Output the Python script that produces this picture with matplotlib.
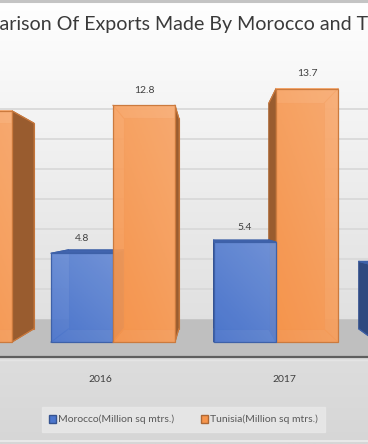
import matplotlib
matplotlib.use("Agg")
import matplotlib.pyplot as plt
import numpy as np
from matplotlib.patches import Polygon, Patch
from matplotlib.lines import Line2D
from matplotlib.colors import LinearSegmentedColormap, to_rgb

years = ["2015", "2016", "2017", "2018"]
morocco = [4.3, 4.8, 5.4, 4.1]
tunisia = [12.5, 12.8, 13.7, 14.2]
series = ["Morocco(Million sq mtrs.)", "Tunisia(Million sq mtrs.)"]
colors = ["#4c76cd", "#f7954c"]
title = "Comparison Of Exports Made By Morocco and Tunisia"
grid_ticks = np.arange(2, 16, 2)

plt.rcParams['font.family'] = ['Lato', 'DejaVu Sans']

fig = plt.figure(figsize=(3.68, 4.44), dpi=100)
ax = fig.add_axes([0, 0, 1, 1])
ax.axis('off')
# the reference is a crop of a wider chart: this is the visible window
xlim = (0.307, 2.564)
ylim = (-5.51, 18.49)

# simple one-point perspective, like excel's 3d columns
vx, vy = 1.595, 6.49
k_back, k_wall, k_floor = 0.89, 0.81, 1.125


def proj(x, y, k):
    return vx + (np.asarray(x, float) - vx) * k, vy + (np.asarray(y, float) - vy) * k


# background
bg = LinearSegmentedColormap.from_list('bg', ['#d6d6d6', '#e9e9e9', '#ffffff'])
ax.imshow(np.linspace(0, 1, 256).reshape(-1, 1), cmap=bg, origin='lower',
          extent=[*xlim, *ylim], aspect='auto', zorder=0)

# gridlines on the back wall
for t in grid_ticks:
    (x0, x1), (y0, _) = proj([-1, 5], [t, t], k_wall)
    ax.plot([x0, x1], [y0, y0], color='#d9d9d9', lw=1.3, zorder=1)

# floor
fx, fy = proj([-2, 6], [0, 0], k_wall)
gx, gy = proj([6, -2], [0, 0], k_floor)
ax.add_patch(Polygon(np.c_[np.r_[fx, gx], np.r_[fy, gy]], closed=True,
                     fc='#bfbfbf', ec='none', zorder=2))
ax.plot(gx, gy, color='#5e5e5e', lw=1.6, zorder=2)
ax.plot(gx, gy - 0.14, color='#e4e4e4', lw=1.0, zorder=2)


def draw_bar(x0, x1, h, color, z):
    base = np.array(to_rgb(color))
    edge = base * 0.82
    side = base * 0.62
    bx, by = proj([x0, x1, x1, x0], [0, 0, h, h], k_back)
    ax.add_patch(Polygon(np.c_[bx, by], closed=True, fc=base * 0.92, ec=edge, lw=0.8, zorder=z))
    if x1 < vx:
        ax.add_patch(Polygon([(x1, 0), (x1, h), (bx[2], by[2]), (bx[1], by[1])],
                             closed=True, fc=side, ec=edge * 0.85, lw=0.8, zorder=z))
    if x0 > vx:
        ax.add_patch(Polygon([(x0, 0), (x0, h), (bx[3], by[3]), (bx[0], by[0])],
                             closed=True, fc=side, ec=edge * 0.85, lw=0.8, zorder=z))
    if h < vy:
        ax.add_patch(Polygon([(x0, h), (x1, h), (bx[2], by[2]), (bx[3], by[3])],
                             closed=True, fc=base * 0.85, ec=edge, lw=0.8, zorder=z))
    for cx, cy, ex, ey in zip([x0, x1, x1, x0], [0, 0, h, h], bx, by):
        ax.plot([cx, ex], [cy, ey], color=edge, lw=0.8, zorder=z)
    light = base + (1 - base) * 0.22
    cmap = LinearSegmentedColormap.from_list('f', [base, light])
    gx_, gy_ = np.meshgrid(np.linspace(0, 1, 32), np.linspace(0, 1, 64))
    ax.imshow(0.4 * gx_ + 0.6 * gy_, cmap=cmap, origin='lower', extent=[x0, x1, 0, h],
              aspect='auto', alpha=0.94, zorder=z + 0.1)
    ax.bar(x0, h, width=x1 - x0, align='edge', fill=False, edgecolor=edge, lw=0.9,
           zorder=z + 0.2)


w = 0.38
bars = []
for i in range(len(years)):
    bars.append((i - w, i, morocco[i], colors[0]))
    bars.append((i, i + w, tunisia[i], colors[1]))
bars.sort(key=lambda b: -abs((b[0] + b[1]) / 2 - vx))
for n, (x0, x1, h, c) in enumerate(bars):
    draw_bar(x0, x1, h, c, 3 + n)

# value labels
for i in range(len(years)):
    for x0, h in [(i - w, morocco[i]), (i, tunisia[i])]:
        ax.text(x0 + w / 2, h + 0.8, f"{h:.1f}", ha='center', va='center',
                fontsize=7.5, color='#404040', zorder=50, clip_on=True)

# category labels along the front edge of the floor
for i, yr in enumerate(years):
    cx, _ = proj(i, 0, k_floor)
    ax.text(cx, -2.0, yr, ha='center', va='center', fontsize=7.5, color='#404040',
            zorder=50, clip_on=True)

ax.set_xlim(*xlim)
ax.set_ylim(*ylim)

# title, cropped on both sides in the reference
r = fig.canvas.get_renderer()


def text_w(s, size):
    tt = fig.text(0, 0, s, fontsize=size)
    wd = tt.get_window_extent(r).width
    tt.remove()
    return wd


seg = title[4:title.index(" and T") + 6]
size = 10 * 369 / text_w(seg, 10)
left = -1 - (text_w(title[:len(seg) + 4], size) - text_w(seg, size))
fig.text(left / 368, 1 - 30 / 444, title, fontsize=size, color='#3a3a3a',
         ha='left', va='baseline')

leg_size = 7.5 * 116 / text_w(series[0], 7.5)
handles = [Patch(facecolor=c, edgecolor=np.array(to_rgb(c)) * 0.7) for c in colors]
leg = fig.legend(handles, series, loc='center', bbox_to_anchor=(183.5 / 368, 1 - 419.5 / 444),
                 ncol=2, frameon=True, facecolor='#e9e9e9', edgecolor='#e9e9e9',
                 fancybox=False, fontsize=leg_size, handlelength=0.7, handleheight=0.9,
                 handletextpad=0.15, columnspacing=2.6, borderpad=0.7, borderaxespad=0)
for tx in leg.get_texts():
    tx.set_color('#595959')

fig.add_artist(Line2D([0, 1], [1 - 1 / 444, 1 - 1 / 444], color='#c4c4c4', lw=2.2))
fig.add_artist(Line2D([0, 1], [3 / 444, 3 / 444], color='#ececec', lw=1.2))

fig.savefig("out.png", dpi=100)
